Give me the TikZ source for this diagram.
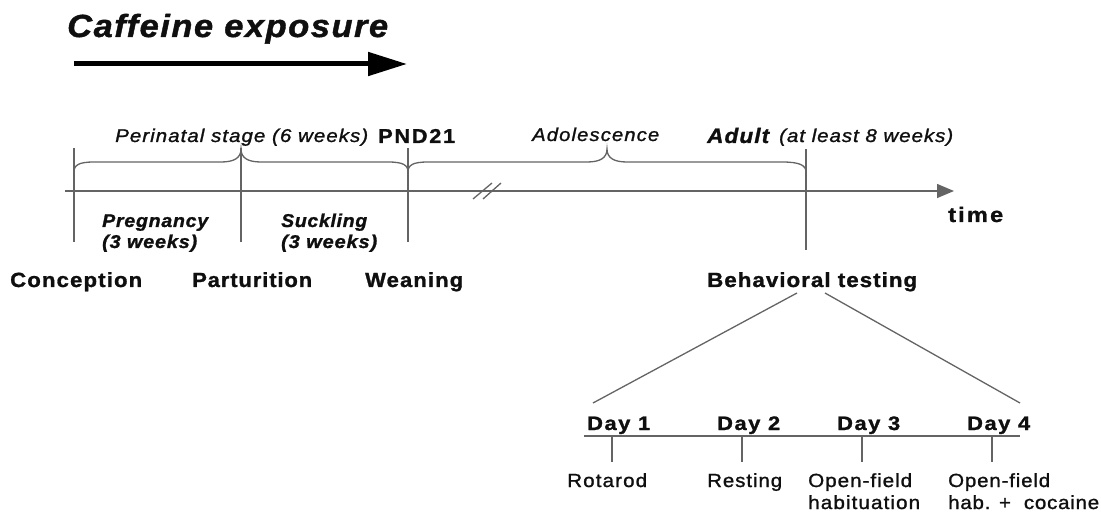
\documentclass[tikz,border=0pt]{standalone}
\usepackage{fontspec}
\usepackage{graphicx}
\setmainfont{Liberation Sans}
\usetikzlibrary{arrows.meta}
\definecolor{linegray}{RGB}{100,100,100}
\definecolor{ink}{RGB}{15,15,15}
\makeatletter
% fit text to a width: half of the extra by letter spacing, the rest by stretching
\newcommand\fitw[3]{%
  \setbox\z@\hbox{#3}%
  \pgfmathsetmacro\fw@ls{((#1)-(\the\wd\z@))*0.5/((#2)*(\the\fontdimen6\font))*100}%
  \setbox\tw@\hbox{\addfontfeatures{LetterSpace=\fw@ls,FakeBold=1.2}#3}%
  \pgfmathsetmacro\fw@s{(#1)/(\the\wd\tw@)}%
  \scalebox{\fw@s}[1]{\box\tw@}}
\makeatother
\newcommand\fs[1]{\fontsize{#1}{#1}\selectfont}
\begin{document}
\begin{tikzpicture}[x=1pt,y=-1pt,
  lbl/.style={inner sep=0pt, anchor=base west, text=ink},
  ln/.style={draw=linegray, line width=1.3pt},
]
\useasboundingbox (0,0) rectangle (1101,513);

% ---- caffeine exposure
\node[lbl] (title) at (67,37) {\fs{32}\bfseries\itshape\fitw{321}{16}{Caffeine exposure}};
\coordinate (ca) at (74,64);
\coordinate (cb) at (407,64);
\draw[line width=5pt, draw=black, -{Triangle[length=39pt,width=23pt]}] (ca) -- (cb);

% ---- main time axis
\coordinate (ax0) at (65,191);
\coordinate (ax1) at (954,191);
\draw[ln, -{Triangle[length=17pt,width=14pt]}] (ax0) -- (ax1);

% ticks
\coordinate (t1a) at (74,148);  \coordinate (t1b) at (74,242);
\coordinate (t2a) at (241,148); \coordinate (t2b) at (241,242);
\coordinate (t3a) at (408,148); \coordinate (t3b) at (408,242);
\coordinate (t4a) at (806,149); \coordinate (t4b) at (806,250);
\draw[ln] (t1a) -- (t1b);
\draw[ln] (t2a) -- (t2b);
\draw[ln] (t3a) -- (t3b);
\draw[ln] (t4a) -- (t4b);

% braces
\draw[ln] (74,172) .. controls (74,165) and (79,162) .. (94,162) -- (221,162)
  .. controls (234,162) and (241,158) .. (241,149)
  .. controls (241,158) and (248,162) .. (261,162) -- (388,162)
  .. controls (403,162) and (408,165) .. (408,172);
\draw[ln] (408,172) .. controls (408,165) and (413,162) .. (428,162) -- (587,162)
  .. controls (600,162) and (607,158) .. (607,149)
  .. controls (607,158) and (614,162) .. (627,162) -- (782,162)
  .. controls (799,162) and (806,165) .. (806,172);

% break marks
\draw[ln] (473,199) -- (492,183);
\draw[ln] (483,199) -- (501,183);

% ---- labels above axis
\node[lbl] (peri) at (115,142) {\fs{18.5}\itshape\fitw{253}{24}{Perinatal stage (6 weeks)}};
\node[lbl] (pnd) at (378,143) {\fs{20}\bfseries\fitw{77}{4}{PND21}};
\node[lbl] (adol) at (532,141) {\fs{18.5}\itshape\fitw{127}{10}{Adolescence}};
\node[lbl] (adult) at (707,143) {\fs{21}\bfseries\itshape\fitw{62}{4}{Adult}};
\node[lbl] (least) at (779,142) {\fs{18.5}\itshape\fitw{174}{17}{(at least 8 weeks)}};

% ---- labels below axis
\node[lbl] (preg1) at (102,227) {\fs{18.5}\bfseries\itshape\fitw{106}{8}{Pregnancy}};
\node[lbl] (preg2) at (102,248) {\fs{18.5}\bfseries\itshape\fitw{95}{8}{(3 weeks)}};
\node[lbl] (suck1) at (281,227) {\fs{18.5}\bfseries\itshape\fitw{86}{7}{Suckling}};
\node[lbl] (suck2) at (281,248) {\fs{18.5}\bfseries\itshape\fitw{96}{8}{(3 weeks)}};
\node[lbl] (time) at (948,222) {\fs{21}\bfseries\fitw{55}{3}{time}};

\node[lbl] (conc) at (10,287) {\fs{20.5}\bfseries\fitw{132}{9}{Conception}};
\node[lbl] (part) at (192,287) {\fs{20.5}\bfseries\fitw{120}{10}{Parturition}};
\node[lbl] (wean) at (365,287) {\fs{20.5}\bfseries\fitw{98}{6}{Weaning}};
\node[lbl] (behav) at (707,287) {\fs{20.5}\bfseries\fitw{210}{17}{Behavioral testing}};

% ---- fan to day axis
\coordinate (f1a) at (797,293); \coordinate (f1b) at (593,403);
\coordinate (f2a) at (825,293); \coordinate (f2b) at (1020,403);
\draw[ln] (f1a) -- (f1b);
\draw[ln] (f2a) -- (f2b);

\coordinate (d0) at (584,436); \coordinate (d5) at (1020,436);
\draw[ln] (d0) -- (d5);
\foreach \x/\n in {612/1,742/2,862/3,992/4}{
  \coordinate (dt\n a) at (\x,436);
  \coordinate (dt\n b) at (\x,462);
  \draw[ln] (dt\n a) -- (dt\n b);
}

\node[lbl] (day1) at (587,430) {\fs{19.5}\bfseries\fitw{63}{4}{Day 1}};
\node[lbl] (day2) at (717,430) {\fs{19.5}\bfseries\fitw{63}{4}{Day 2}};
\node[lbl] (day3) at (837,430) {\fs{19.5}\bfseries\fitw{63}{4}{Day 3}};
\node[lbl] (day4) at (967,430) {\fs{19.5}\bfseries\fitw{63}{4}{Day 4}};

\node[lbl] (rot) at (567,487) {\fs{19}\fitw{80}{6}{Rotarod}};
\node[lbl] (rest) at (707,487) {\fs{19}\fitw{75}{6}{Resting}};
\node[lbl] (of1) at (808,487) {\fs{19}\fitw{104}{9}{Open-field}};
\node[lbl] (of2) at (808,509) {\fs{19}\fitw{112}{10}{habituation}};
\node[lbl] (of3) at (948,487) {\fs{19}\fitw{102}{9}{Open-field}};
\node[lbl] (of4) at (948,509) {\fs{19}\fitw{151}{14}{hab. +\ \ cocaine}};
\end{tikzpicture}
\end{document}
